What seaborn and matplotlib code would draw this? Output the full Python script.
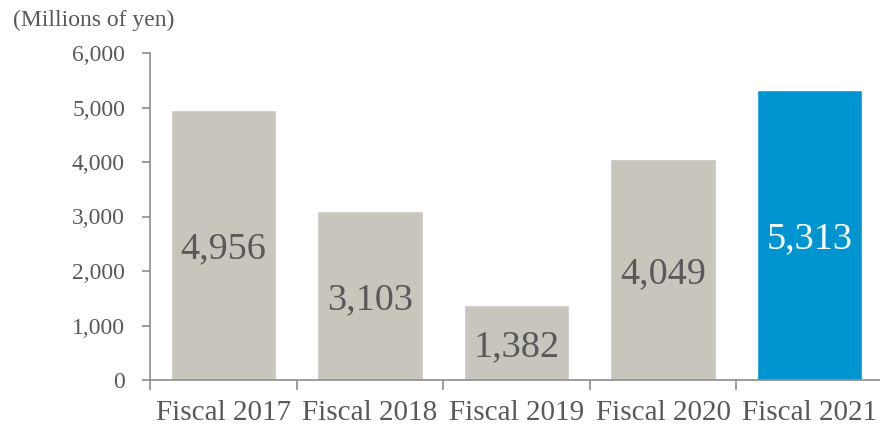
import matplotlib
matplotlib.use("Agg")
import matplotlib.pyplot as plt
import seaborn as sns
import pandas as pd

categories = ["Fiscal 2017", "Fiscal 2018", "Fiscal 2019", "Fiscal 2020", "Fiscal 2021"]
values = [4956, 3103, 1382, 4049, 5313]
bar_colors = ["#C8C5BD", "#C8C5BD", "#C8C5BD", "#C8C5BD", "#0095D0"]
label_colors = ["#595959", "#595959", "#595959", "#595959", "#FFFFFF"]
y_ticks = [0, 1000, 2000, 3000, 4000, 5000, 6000]
unit_label = "(Millions of yen)"

sns.set_theme(style="white")
plt.rcParams["font.family"] = ["Liberation Serif", "DejaVu Serif"]

df = pd.DataFrame({"year": categories, "value": values})

fig = plt.figure(figsize=(8.8, 4.28), dpi=100)
ax = fig.add_axes([150 / 880, 1 - 380 / 428, 733 / 880, 327 / 428])

sns.barplot(data=df, x="year", y="value", hue="year", palette=bar_colors,
            legend=False, width=0.72, saturation=1, ax=ax)

# value labels sit at mid-height of each bar
for i, (v, c) in enumerate(zip(values, label_colors)):
    ax.annotate(f"{v:,}", xy=(i, v / 2), xytext=(0, -3), textcoords="offset points",
                ha="center", va="center", fontsize=27.5, color=c)

ax.set_xlim(-0.5, 4.5)
ax.set_ylim(0, 6000)
ax.set_yticks(y_ticks)
ax.set_yticklabels([f"{t:,}" for t in y_ticks], fontsize=17, color="#595959")

# category boundaries carry the tick marks; names sit between them
ax.set_xticks([-0.5, 0.5, 1.5, 2.5, 3.5])
ax.set_xticklabels([])
ax.set_xticks(range(len(categories)), minor=True)
ax.set_xticklabels(categories, minor=True, fontsize=21, color="#595959")
ax.tick_params(axis="x", which="major", direction="out", length=7, width=1.2,
               color="#8C8C8C", bottom=True)
ax.tick_params(axis="x", which="minor", length=0, pad=14.5, bottom=True)
ax.tick_params(axis="y", direction="out", length=6, width=1.2,
               color="#8C8C8C", left=True, pad=12)

ax.set_xlabel("")
ax.set_ylabel("")
for s in ["top", "right"]:
    ax.spines[s].set_visible(False)
for s in ["left", "bottom"]:
    ax.spines[s].set_color("#8C8C8C")
    ax.spines[s].set_linewidth(1.2)

fig.text(13 / 880, 1 - 20 / 428, unit_label, ha="left", va="center",
         fontsize=17, color="#595959")

fig.savefig("out.png", dpi=100)
